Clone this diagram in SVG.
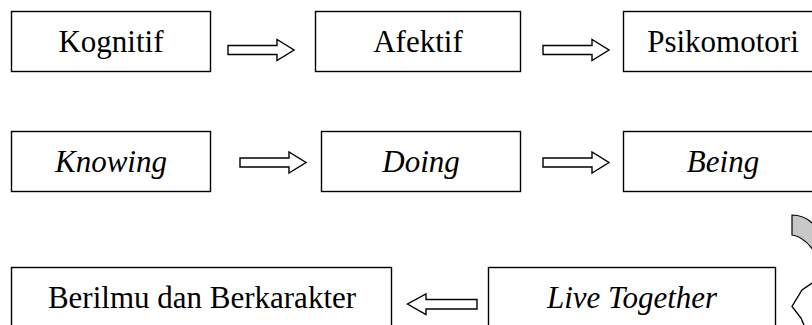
<svg xmlns="http://www.w3.org/2000/svg" width="812" height="325" viewBox="0 0 812 325">
  <style>
    .box { fill: #ffffff; stroke: #000000; stroke-width: 1.4; }
    .lbl { font-family: "Liberation Serif", "Times New Roman", serif; font-size: 31px; fill: #000000; text-anchor: middle; }
    .it { font-style: italic; }
    .blk { fill: #ffffff; stroke: #000000; stroke-width: 1.4; stroke-linejoin: miter; }
    .back { fill: #c8c8c8; stroke: #000000; stroke-width: 1.2; }
  </style>
  <defs>
    <!-- block arrow pointing right, origin at the tail centre -->
    <path id="blockRight" d="M0,-4.5 H49 V-10.5 L66,0 L49,10.5 V4.5 H0 Z"/>
  </defs>
  <rect width="812" height="325" fill="#ffffff"/>

  <!-- row 1 -->
  <g id="kognitif">
    <rect class="box" x="11.5" y="11.5" width="199" height="60"/>
    <text class="lbl" x="111" y="52.3">Kognitif</text>
  </g>
  <g id="afektif">
    <rect class="box" x="315.5" y="11.5" width="205" height="60"/>
    <text class="lbl" x="418" y="52.3">Afektif</text>
  </g>
  <g id="psikomotori">
    <rect class="box" x="623.5" y="11.5" width="199" height="60"/>
    <text class="lbl" x="723" y="52.3">Psikomotori</text>
  </g>

  <!-- row 2 -->
  <g id="knowing">
    <rect class="box" x="11.5" y="131.5" width="199" height="60"/>
    <text class="lbl it" x="111" y="171.7">Knowing</text>
  </g>
  <g id="doing">
    <rect class="box" x="321.5" y="131.5" width="199" height="60"/>
    <text class="lbl it" x="421" y="171.7">Doing</text>
  </g>
  <g id="being">
    <rect class="box" x="623.5" y="131.5" width="199" height="60"/>
    <text class="lbl it" x="723" y="171.7">Being</text>
  </g>

  <!-- row 3 -->
  <g id="berilmu">
    <rect class="box" x="11.5" y="267.5" width="380" height="70"/>
    <text class="lbl" x="202" y="307.7">Berilmu dan Berkarakter</text>
  </g>
  <g id="live-together">
    <rect class="box" x="488.5" y="267.5" width="287" height="70"/>
    <text class="lbl it" x="632" y="307.7">Live Together</text>
  </g>

  <!-- connectors -->
  <g id="connectors">
    <use href="#blockRight" class="blk" x="228" y="50"/>
    <use href="#blockRight" class="blk" x="543" y="50"/>
    <use href="#blockRight" class="blk" x="240" y="162.5"/>
    <use href="#blockRight" class="blk" x="543" y="162.5"/>
    <path class="blk" d="M477,299.5 H426 V294 L407.5,304 L426,314.5 V309 H477 Z"/>
    <!-- curved return arrow from Being down to Live Together -->
    <path class="back" d="M792,215 Q806,215 816,227 L816,254 Q804,236 792,235 Z"/>
    <path class="blk" d="M818,279 L802,290 L792,306.5 L801,318 L806,330 L818,330 Z"/>
  </g>
</svg>
